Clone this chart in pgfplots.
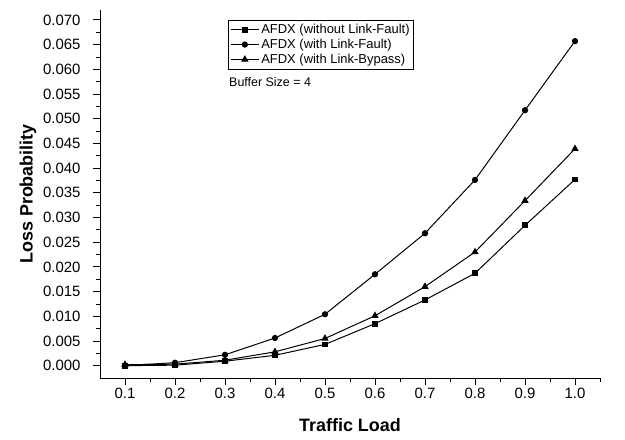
\documentclass[border=0pt]{standalone}
\usepackage{fontspec}
\setmainfont{Liberation Sans}
\usepackage{pgfplots}
\pgfplotsset{compat=1.18}
\begin{document}
\begin{tikzpicture}
\begin{axis}[
  scale only axis,
  width=500bp, height=368bp,
  xmin=0.05, xmax=1.05,
  ymin=-0.0025, ymax=0.072,
  axis x line=bottom, axis y line=left,
  axis line style={-, line width=0.9pt},
  tick align=outside,
  xtick={0.1,0.2,...,1.0},
  minor xtick={0.15,0.25,...,1.05},
  ytick={0,0.005,...,0.0701},
  minor ytick={0.0025,0.0075,...,0.0701},
  major tick length=7bp, minor tick length=4bp,
  every tick/.style={black, line width=0.8pt},
  /pgf/number format/assume math mode=true,
  xticklabel style={font=\fontsize{15}{17}\selectfont, /pgf/number format/fixed, /pgf/number format/fixed zerofill, /pgf/number format/precision=1},
  yticklabel style={font=\fontsize{15}{17}\selectfont, xshift=-9bp, /pgf/number format/fixed, /pgf/number format/fixed zerofill, /pgf/number format/precision=3},
  scaled y ticks=false,
  xlabel={\textbf{Traffic Load}},
  ylabel={\textbf{Loss Probability}},
  label style={font=\fontsize{18}{20}\selectfont},
  xlabel style={at={(axis description cs:0.5,-0.128)}, anchor=center},
  ylabel style={at={(axis description cs:-0.144,0.5)}, anchor=center},
  legend style={at={(rel axis cs:0.256,0.973)}, anchor=north west, draw=black, line width=0.7pt,
    font=\fontsize{13}{14}\selectfont, inner sep=2pt, row sep=0pt},
  legend cell align=left,
  legend image code/.code={\draw[mark repeat=2, mark phase=2] plot coordinates {(0bp,0bp) (14bp,0bp) (28bp,0bp)};},
  every axis plot/.append style={black, line width=1pt},
]
\addplot[mark=square*, mark size=2.4bp] coordinates {
  (0.1,0.0000) (0.2,0.0001) (0.3,0.0009) (0.4,0.0021) (0.5,0.0043)
  (0.6,0.0085) (0.7,0.0133) (0.8,0.0187) (0.9,0.0284) (1.0,0.0377)
};
\addlegendentry{AFDX (without Link-Fault)}
\addplot[mark=*, mark size=2.6bp] coordinates {
  (0.1,0.0000) (0.2,0.0006) (0.3,0.0022) (0.4,0.0056) (0.5,0.0104)
  (0.6,0.0185) (0.7,0.0268) (0.8,0.0376) (0.9,0.0517) (1.0,0.0657)
};
\addlegendentry{AFDX (with Link-Fault)}
\addplot[mark=triangle*, mark size=3.3bp] coordinates {
  (0.1,0.0002) (0.2,0.0003) (0.3,0.0011) (0.4,0.0028) (0.5,0.0055)
  (0.6,0.0101) (0.7,0.0160) (0.8,0.0230) (0.9,0.0334) (1.0,0.0439)
};
\addlegendentry{AFDX (with Link-Bypass)}
\node[anchor=west, inner sep=0pt, font=\fontsize{12.5}{14}\selectfont] at (rel axis cs:0.258,0.803) {Buffer Size = 4};
\end{axis}
\pgfresetboundingbox
\useasboundingbox ([xshift=-100bp,yshift=-61bp]current axis.south west) rectangle ([xshift=25bp,yshift=10bp]current axis.north east);
\end{tikzpicture}
\end{document}
